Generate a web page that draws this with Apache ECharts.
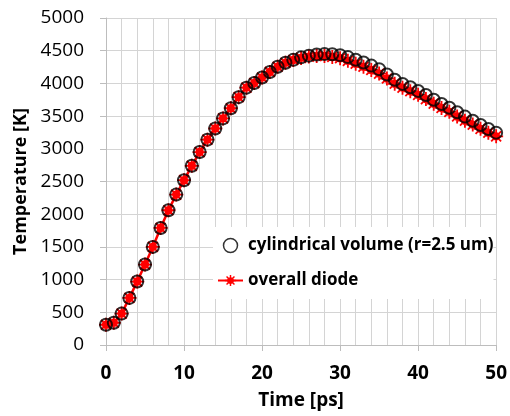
<!DOCTYPE html>
<html>
<head>
<meta charset="utf-8">
<script src="https://cdn.jsdelivr.net/npm/echarts@6/dist/echarts.min.js"></script>
<style>html,body{margin:0;padding:0;background:#fff;}#c{width:510px;height:416px;}</style>
</head>
<body>
<div id="c"></div>
<script>
// Time [ps]
const times = [0,1,2,3,4,5,6,7,8,9,10,11,12,13,14,15,16,17,18,19,20,21,22,23,24,25,26,27,28,29,30,31,32,33,34,35,36,37,38,39,40,41,42,43,44,45,46,47,48,49,50];
// cylindrical volume (r=2.5 um)
const cylTemp = [310,340,480,720,970,1230,1500,1790,2060,2300,2520,2740,2950,3140,3310,3465,3620,3790,3935,4005,4090,4175,4255,4315,4360,4398,4424,4442,4448,4445,4432,4402,4362,4320,4272,4218,4135,4055,3992,3940,3885,3822,3750,3685,3628,3558,3492,3430,3365,3303,3247];
// overall diode
const diodeTemp = [310,340,480,720,970,1230,1500,1790,2060,2300,2520,2740,2950,3140,3310,3465,3620,3790,3935,4005,4090,4175,4255,4315,4358,4390,4410,4420,4420,4405,4385,4345,4300,4255,4205,4150,4075,3995,3935,3880,3825,3760,3690,3625,3565,3495,3430,3370,3305,3245,3190];
const seriesNames = ['cylindrical volume (r=2.5 um)', 'overall diode'];
const xTitle = 'Time [ps]';
const yTitle = 'Temperature [K]';

// asterisk path: vertical, horizontal, two diagonals + centre disk
function bar(angleDeg){
  const a = angleDeg*Math.PI/180, c=Math.cos(a), s=Math.sin(a);
  const pts = [[-1.3,-10],[1.3,-10],[1.3,10],[-1.3,10]].map(p=>[10+p[0]*c-p[1]*s, 10+p[0]*s+p[1]*c]);
  return 'M'+pts.map(p=>p[0].toFixed(2)+' '+p[1].toFixed(2)).join(' L')+' Z ';
}
const starPath = 'path://' + bar(0) + bar(90) + bar(45) + bar(-45) +
  'M10 4 A6 6 0 1 1 9.99 4 Z';

const font = '"Open Sans", Lato, sans-serif';
const chart = echarts.init(document.getElementById('c'), null, {renderer:'canvas'});
chart.setOption({
  animation:false,
  backgroundColor:'#fff',
  grid:{left:106, right:13, top:18, bottom:71, containLabel:false},
  xAxis:{
    type:'value', min:0, max:50, interval:10,
    name:xTitle, nameLocation:'middle', nameGap:46,
    nameTextStyle:{fontFamily:font, fontWeight:'bold', fontSize:19, color:'#000'},
    axisLine:{show:true, onZero:false, lineStyle:{color:'#bdbdbd', width:1}},
    axisTick:{show:true, inside:false, length:6, lineStyle:{color:'#bdbdbd'}},
    axisLabel:{fontFamily:font, fontWeight:'bold', fontSize:19, color:'#000', margin:19},
    splitLine:{show:true, lineStyle:{color:'#d4d4d4', width:1}},
    minorTick:{show:false, splitNumber:5},
    minorSplitLine:{show:true, lineStyle:{color:'#d4d4d4', width:1}}
  },
  yAxis:{
    type:'value', min:0, max:5000, interval:500,
    name:yTitle, nameLocation:'middle', nameGap:70, nameRotate:90,
    nameTextStyle:{fontFamily:font, fontWeight:'bold', fontSize:18, color:'#000'},
    axisLine:{show:true, lineStyle:{color:'#bdbdbd', width:1}},
    axisTick:{show:true, inside:false, length:6, lineStyle:{color:'#bdbdbd'}},
    axisLabel:{fontFamily:font, fontSize:19, color:'#000', margin:22, formatter:function(v){return String(v);}},
    splitLine:{show:true, lineStyle:{color:'#d4d4d4', width:1}}
  },
  legend:{
    show:true, orient:'vertical', left:213, top:227,
    backgroundColor:'#fff', padding:[10,0,10,4], itemGap:18,
    itemWidth:25, itemHeight:14,
    data:[
      {name:seriesNames[0], icon:'circle', itemStyle:{color:'rgba(0,0,0,0)', borderColor:'#000', borderWidth:1.5}},
      {name:seriesNames[1]}
    ],
    textStyle:{fontFamily:font, fontWeight:'bold', fontSize:17, color:'#000'}
  },
  series:[
    {
      name:seriesNames[1], type:'line', z:2,
      data:times.map((t,i)=>[t, diodeTemp[i]]),
      symbol:starPath, symbolSize:14,
      lineStyle:{color:'#ff0000', width:2.5},
      itemStyle:{color:'#ff0000'}
    },
    {
      name:seriesNames[0], type:'scatter', z:3,
      data:times.map((t,i)=>[t, cylTemp[i]]),
      symbol:'circle', symbolSize:12,
      itemStyle:{color:'rgba(0,0,0,0)', borderColor:'#000', borderWidth:2}
    }
  ]
});
</script>
</body>
</html>
